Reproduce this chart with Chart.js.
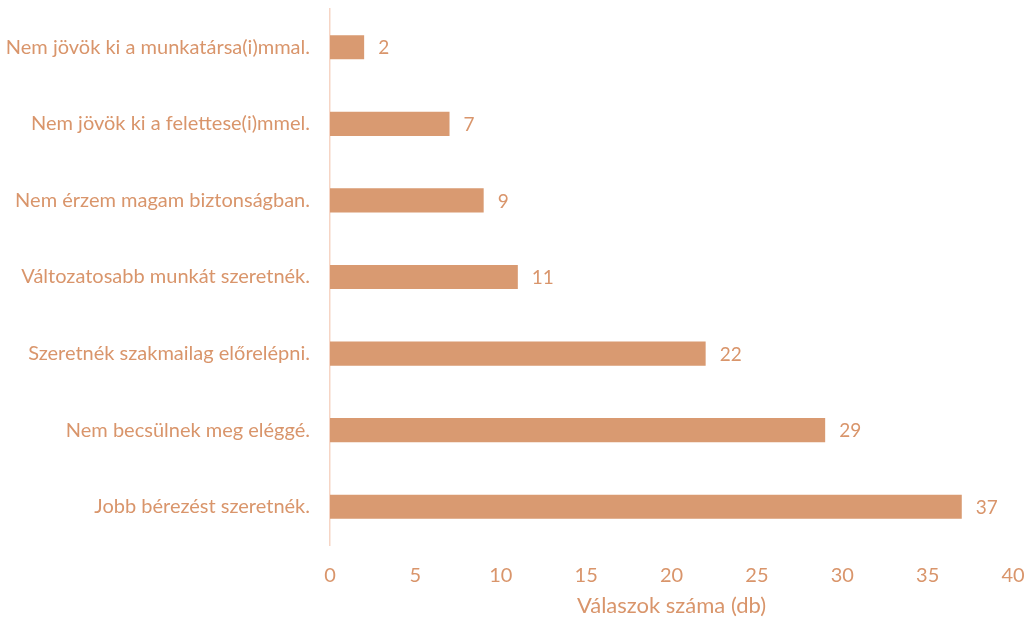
<!DOCTYPE html>
<html><head><meta charset="utf-8">
<script src="https://cdn.jsdelivr.net/npm/chart.js@4/dist/chart.umd.min.js"></script>
<style>html,body{margin:0;padding:0;background:#fff}#wrap{width:1029px;height:619px;position:relative}</style>
</head><body><div id="wrap"><canvas id="c"></canvas></div>
<script>
const categories = [
  "Nem jövök ki a munkatársa(i)mmal.",
  "Nem jövök ki a felettese(i)mmel.",
  "Nem érzem magam biztonságban.",
  "Változatosabb munkát szeretnék.",
  "Szeretnék szakmailag előrelépni.",
  "Nem becsülnek meg eléggé.",
  "Jobb bérezést szeretnék."
];
const values = [2, 7, 9, 11, 22, 29, 37];
const axisTitle = "Válaszok száma (db)";

const textColor = "#D9956B";
const barColor = "#D99A71";
const fontFamily = "Lato, 'Open Sans', sans-serif";

const valueLabels = {
  id: 'valueLabels',
  afterDatasetsDraw(chart) {
    const ctx = chart.ctx;
    const meta = chart.getDatasetMeta(0);
    ctx.save();
    ctx.fillStyle = textColor;
    ctx.font = "19px " + fontFamily;
    ctx.textAlign = 'left';
    ctx.textBaseline = 'middle';
    meta.data.forEach((bar, i) => {
      ctx.fillText(String(values[i]), bar.x + 14, bar.y + 1);
    });
    ctx.restore();
  }
};

new Chart(document.getElementById('c'), {
  type: 'bar',
  data: {
    labels: categories,
    datasets: [{
      data: values,
      backgroundColor: barColor,
      borderWidth: 0,
      barPercentage: 0.5,
      categoryPercentage: 0.63
    }]
  },
  options: {
    indexAxis: 'y',
    responsive: true,
    maintainAspectRatio: false,
    animation: false,
    layout: { padding: { top: 9, right: 16, left: 0, bottom: 0 } },
    plugins: { legend: { display: false }, tooltip: { enabled: false } },
    scales: {
      x: {
        min: 0, max: 40,
        afterFit(scale) { scale.height = 74; scale.paddingLeft = 0; scale.paddingRight = 0; },
        ticks: { stepSize: 5, color: textColor, font: { family: fontFamily, size: 20 }, padding: 19 },
        grid: { display: false, drawTicks: false },
        border: { display: false },
        title: { display: true, text: axisTitle, color: textColor, font: { family: fontFamily, size: 22 }, padding: { top: 0, bottom: 0 } }
      },
      y: {
        afterFit(scale) { scale.width = 330; scale.paddingTop = 0; scale.paddingBottom = 0; },
        ticks: { color: textColor, font: { family: fontFamily, size: 20 }, padding: 20 },
        grid: { display: false, drawTicks: false },
        border: { display: true, color: "#F6D5C5", width: 1.5 }
      }
    }
  },
  plugins: [valueLabels]
});
</script></body></html>
